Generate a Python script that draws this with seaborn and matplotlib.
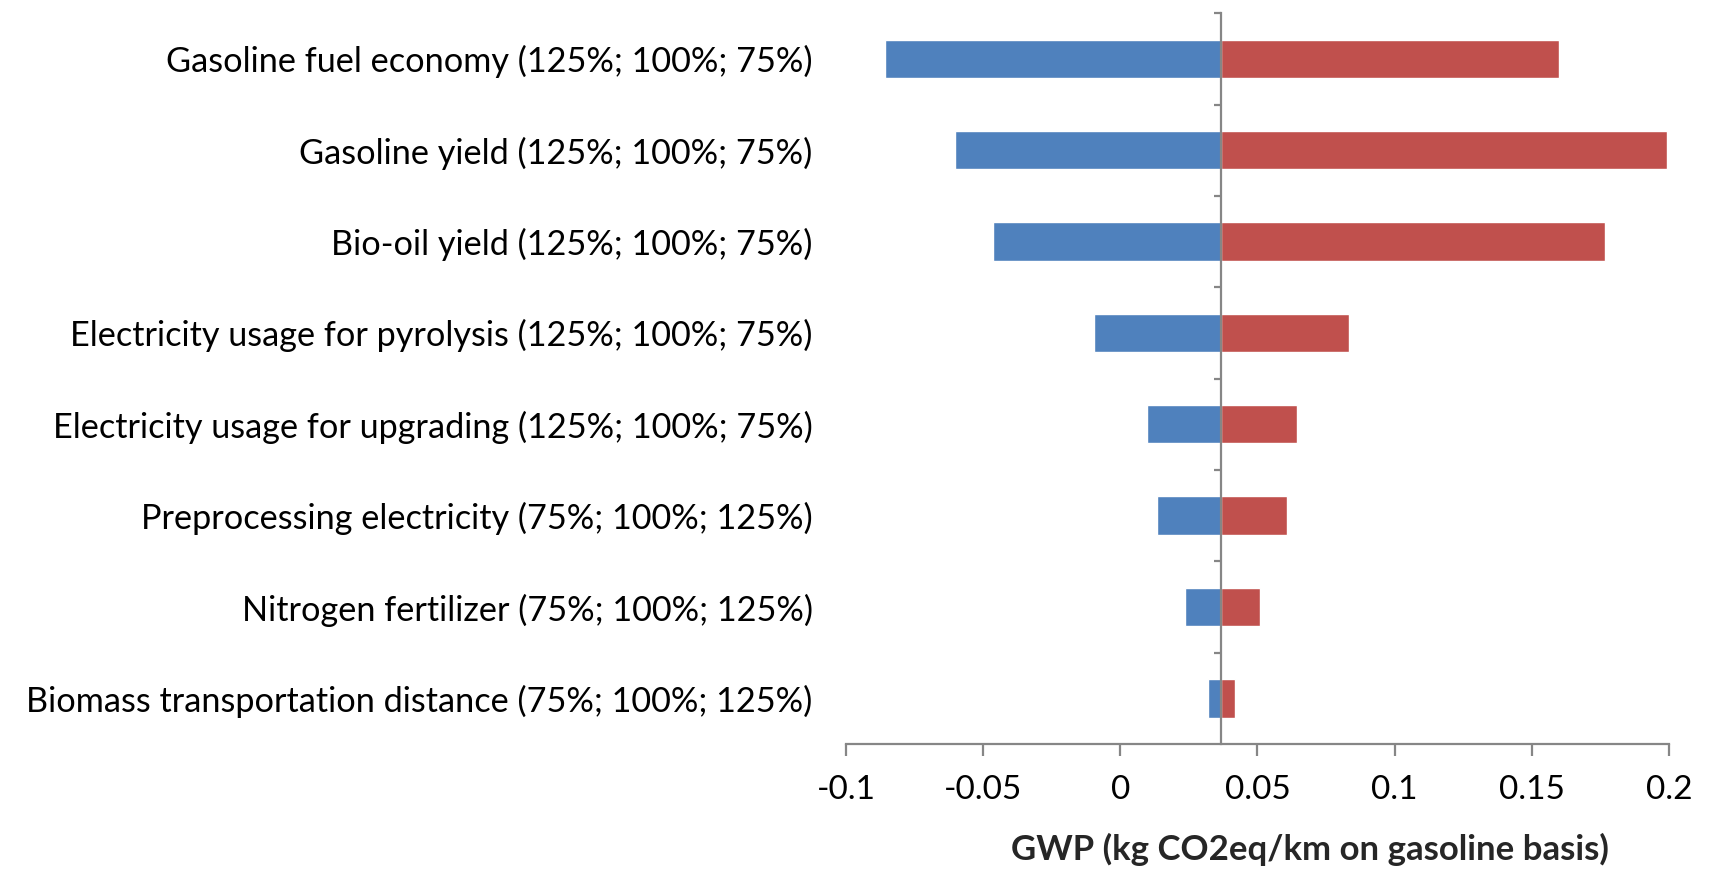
import matplotlib
matplotlib.use("Agg")
import matplotlib.pyplot as plt
import seaborn as sns
import pandas as pd
import numpy as np

categories = [
    "Gasoline fuel economy (125%; 100%; 75%)",
    "Gasoline yield (125%; 100%; 75%)",
    "Bio-oil yield (125%; 100%; 75%)",
    "Electricity usage for pyrolysis (125%; 100%; 75%)",
    "Electricity usage for upgrading (125%; 100%; 75%)",
    "Preprocessing electricity (75%; 100%; 125%)",
    "Nitrogen fertilizer (75%; 100%; 125%)",
    "Biomass transportation distance (75%; 100%; 125%)",
]
baseline = 0.0368
low_values = [-0.0856, -0.0602, -0.0463, -0.0096, 0.0096, 0.0132, 0.0236, 0.0321]
high_values = [0.1600, 0.1992, 0.1766, 0.0835, 0.0644, 0.0608, 0.0508, 0.0419]
xticks = [-0.1, -0.05, 0, 0.05, 0.1, 0.15, 0.2]
xtick_labels = ["-0.1", "-0.05", "0", "0.05", "0.1", "0.15", "0.2"]
xlabel = "GWP (kg CO2eq/km on gasoline basis)"

sns.set_theme(style="white")
plt.rcParams["font.family"] = ["Lato", "DejaVu Sans"]

df = pd.DataFrame({
    "category": categories,
    "low": np.array(low_values) - baseline,
    "high": np.array(high_values) - baseline,
})

fig = plt.figure(figsize=(17.16, 8.81), dpi=100)
ax = fig.add_axes([0.493, 0.1555, 0.9726 - 0.493, 0.985 - 0.1555])

sns.barplot(data=df, y="category", x="low", color="#4F81BD", width=0.42,
            left=baseline, ax=ax, saturation=1, orient="h")
sns.barplot(data=df, y="category", x="high", color="#C0504D", width=0.42,
            left=baseline, ax=ax, saturation=1, orient="h")

ax.set_xlim(-0.1, 0.2)
ax.set_ylim(len(categories) - 0.5, -0.5)
ax.set_xticks(xticks)
ax.set_xticklabels(xtick_labels)
ax.set_ylabel("")
ax.set_xlabel(xlabel, fontsize=25, fontweight="bold", va="top")
ax.xaxis.set_label_coords(0.564, -0.122)

axis_color = "#868686"
for s in ["top", "right", "left"]:
    ax.spines[s].set_visible(False)
ax.spines["bottom"].set_color(axis_color)
ax.spines["bottom"].set_linewidth(1.6)
ax.tick_params(axis="x", direction="out", length=8.5, width=1.6, color=axis_color,
               labelsize=24, pad=14, bottom=True, labelcolor="black")
ax.tick_params(axis="y", length=0, pad=24, labelsize=24.7, labelcolor="black")

# vertical axis through the baseline with ticks between categories
ax2 = ax.twinx()
ax2.set_ylim(ax.get_ylim())
for s in ["top", "right", "bottom"]:
    ax2.spines[s].set_visible(False)
ax2.spines["left"].set_visible(True)
ax2.spines["left"].set_position(("data", baseline))
ax2.spines["left"].set_color(axis_color)
ax2.spines["left"].set_linewidth(1.6)
ax2.yaxis.tick_left()
ax2.set_yticks(np.arange(-0.5, len(categories) - 0.5, 1.0))
ax2.tick_params(axis="y", direction="out", length=5, width=1.6, color=axis_color,
                labelleft=False, labelright=False, right=False)
ax2.grid(False)
ax.grid(False)

fig.savefig("out.png", dpi=100, facecolor="white")
